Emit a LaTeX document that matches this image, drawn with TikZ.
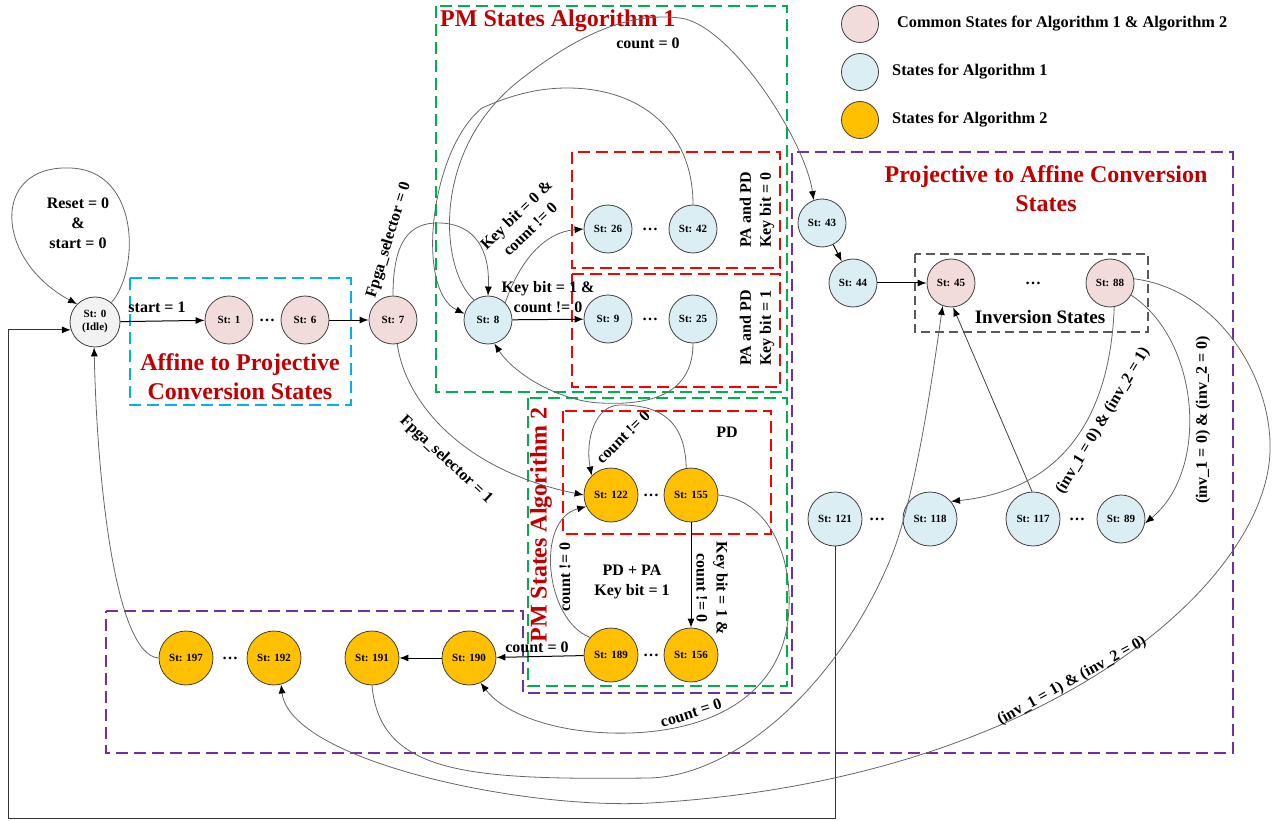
\documentclass[tikz,border=0pt]{standalone}
\usepackage{fontspec}
\setmainfont{Liberation Serif}
\usetikzlibrary{arrows.meta}
\definecolor{pinkc}{HTML}{F2DCDB}
\definecolor{bluec}{HTML}{DAEEF3}
\definecolor{orc}{HTML}{FFC000}
\definecolor{idlec}{HTML}{F2F2F2}
\definecolor{redt}{HTML}{C00000}
\definecolor{greenb}{HTML}{00B050}
\definecolor{redb}{HTML}{FF0000}
\definecolor{purpb}{HTML}{7030A0}
\definecolor{cyanb}{HTML}{00B0F0}
\definecolor{grayb}{HTML}{595959}
\begin{document}
\begin{tikzpicture}[x=1pt,y=-1pt,
  st/.style={circle, draw=black!75, line width=0.8pt, minimum size=48pt, inner sep=0pt, font=\fontsize{11}{13}\selectfont\bfseries, align=center},
  pinkst/.style={st, fill=pinkc},
  bluest/.style={st, fill=bluec},
  bigbluest/.style={st, fill=bluec, minimum size=54pt},
  orst/.style={st, fill=orc, minimum size=54pt},
  idlest/.style={st, fill=idlec, minimum size=50pt},
  legc/.style={circle, draw=black!75, line width=0.8pt, minimum size=37pt, inner sep=0pt},
  legt/.style={anchor=west, inner sep=0pt, font=\fontsize{16.3}{19}\selectfont\bfseries},
  lbl/.style={font=\fontsize{16}{20}\selectfont\bfseries, align=center, inner sep=0pt},
  dots/.style={font=\fontsize{16}{20}\selectfont\bfseries, inner sep=0pt},
  ttl/.style={font=\fontsize{24}{29}\selectfont\bfseries, text=redt, align=center, inner sep=0pt},
  boxd/.style={line width=1.8pt, dash pattern=on 12pt off 6pt},
  straw/.style={draw=black, line width=1pt, -{Latex[length=9pt,width=7pt,color=black]}},
  cur/.style={draw=black!60, line width=0.8pt, -{Latex[length=9pt,width=7pt,color=black]}}
]
\useasboundingbox (0,0) rectangle (1275,821);
% boxes
\draw[boxd, cyanb] (130,278) rectangle (351,405);
\draw[boxd, greenb] (436,6) rectangle (787,392);
\draw[boxd, greenb] (528,398) rectangle (787,686);
\draw[boxd, redb] (572,152) rectangle (780,268);
\draw[boxd, redb] (572,274) rectangle (780,387);
\draw[boxd, redb] (563,411) rectangle (771,534);
\draw[boxd, purpb] (106,611) -- (523,611) -- (523,693) -- (792,693) -- (792,152) -- (1233,152) -- (1233,753) -- (106,753) -- cycle;
\draw[grayb, line width=1.3pt, dash pattern=on 9pt off 5pt] (915,254) rectangle (1148,332);

% titles
\node[ttl, anchor=west] (t1) at (440,21) {PM States Algorithm 1};
\node[ttl, rotate=90] (t2) at (541,525) {PM States Algorithm 2};
\node[ttl] (t3) at (240,377) {Affine to Projective\\Conversion States};
\node[ttl] (t4) at (1046,189) {Projective to Affine Conversion\\States};
\node[font=\fontsize{19}{22}\selectfont\bfseries, inner sep=0pt] (t5) at (1040,317) {Inversion States};

% legend
\node[legc, fill=pinkc] (lg1) at (860,24) {};
\node[legc, fill=bluec] (lg2) at (860,72) {};
\node[legc, fill=orc] (lg3) at (860,120) {};
\node[legt] (lt1) at (897,24) {Common States for Algorithm 1 \& Algorithm 2};
\node[legt] (lt2) at (892,72) {States for Algorithm 1};
\node[legt] (lt3) at (892,120) {States for Algorithm 2};

% states
\node[idlest] (s0) at (95,322) {St: 0\\(Idle)};
\node[pinkst] (s1) at (229,320) {St: 1};
\node[pinkst] (s6) at (305,320) {St: 6};
\node[pinkst] (s7) at (393,320) {St: 7};
\node[bluest] (s8) at (488,320) {St: 8};
\node[bluest] (s9) at (608,319) {St: 9};
\node[bluest] (s25) at (693,319) {St: 25};
\node[bluest] (s26) at (608,229) {St: 26};
\node[bluest] (s42) at (693,229) {St: 42};
\node[bluest] (s43) at (822,223) {St: 43};
\node[bluest] (s44) at (853,283) {St: 44};
\node[pinkst] (s45) at (951,283) {St: 45};
\node[pinkst] (s88) at (1110,283) {St: 88};
\node[bigbluest] (s121) at (835,519) {St: 121};
\node[bigbluest] (s118) at (930,519) {St: 118};
\node[bigbluest] (s117) at (1033,519) {St: 117};
\node[bluest] (s89) at (1121,519) {St: 89};
\node[orst] (s122) at (611,495) {St: 122};
\node[orst] (s155) at (691,495) {St: 155};
\node[orst] (s189) at (611,655) {St: 189};
\node[orst] (s156) at (691,655) {St: 156};
\node[orst] (s190) at (469,658) {St: 190};
\node[orst] (s191) at (372,658) {St: 191};
\node[orst] (s192) at (274,658) {St: 192};
\node[orst] (s197) at (186,658) {St: 197};

% dots
\node[dots] (d1) at (267,320) {\ldots};
\node[dots] (d2) at (650,229) {\ldots};
\node[dots] (d3) at (650,319) {\ldots};
\node[dots] (d4) at (651,495) {\ldots};
\node[dots] (d5) at (651,655) {\ldots};
\node[dots] (d6) at (230,658) {\ldots};
\node[dots] (d7) at (1033,283) {\ldots};
\node[dots] (d8) at (877,519) {\ldots};
\node[dots] (d9) at (1077,519) {\ldots};

% straight arrows
\draw[straw] (s0) -- (s1);
\draw[straw] (s6) -- (s7);
\draw[straw] (s8) -- (s9);
\draw[straw] (s43) -- (s44);
\draw[straw] (s44) -- (s45);
\draw[straw] (s155) -- (s156);
\draw[straw] (s189) -- (s190);
\draw[straw] (s190) -- (s191);
\draw[straw, draw=black!75, line width=0.8pt] (s117.92) -- (s45.-85);
\draw[straw, draw=black!80, line width=0.8pt] (s121.south) -- (835,818) -- (8,818) |- (s0.198);

% curved transitions
\draw[cur] (s0.50) .. controls (140,270) and (140,170) .. (70,168) .. controls (-10,165) and (-5,260) .. (s0.135);
\draw[cur] (s7.north) .. controls (393,240) and (410,222) .. (440,223) .. controls (475,224) and (490,250) .. (s8.north);
\draw[cur] (s7.-80) .. controls (405,400) and (460,470) .. (s122.west);
\draw[cur] (s8.45) .. controls (520,260) and (545,232) .. (s26.west);
\draw[cur] (s42.north) .. controls (693,130) and (640,88) .. (567,88) .. controls (530,88) and (500,100) .. (482,108) .. controls (430,150) and (415,290) .. (s8.165);
\draw[cur] (s8.125) .. controls (440,270) and (430,150) .. (520,80) .. controls (580,33) and (630,12) .. (680,18) .. controls (730,24) and (805,140) .. (s43.110);
\draw[cur] (s25.south) .. controls (693,400) and (640,405) .. (600,403) .. controls (560,401) and (515,375) .. (s8.-75);
\draw[cur] (s155.100) .. controls (685,420) and (660,405) .. (620,405) .. controls (595,405) and (585,440) .. (s122.135);
\draw[cur] (s189.140) .. controls (545,620) and (535,520) .. (s122.205);
\draw[cur] (s155.east) .. controls (770,500) and (795,560) .. (788,620) .. controls (780,690) and (720,730) .. (630,733) .. controls (560,735) and (505,715) .. (s190.-65);
\draw[cur] (s191.south) .. controls (380,775) and (470,780) .. (650,778) .. controls (740,775) and (840,680) .. (890,560) .. controls (915,500) and (932,380) .. (s45.-110);
\draw[cur] (s88.10) .. controls (1220,290) and (1272,380) .. (1270,450) .. controls (1268,580) and (1050,780) .. (650,803) .. controls (520,810) and (290,760) .. (s192.-75);
\draw[cur] (s88.-80) .. controls (1110,420) and (1060,490) .. (s118.40);
\draw[cur] (s88.-30) .. controls (1200,340) and (1210,470) .. (s89.-10);
\draw[cur] (s197.west) .. controls (115,655) and (97,480) .. (s0.-92);

% labels
\node[lbl] (lreset) at (78,223) {Reset = 0\\\&\\start = 0};
\node[lbl] (lstart) at (157,307) {start = 1};
\node[lbl, rotate=73] (lfs0) at (389,240) {Fpga\_selector = 0};
\node[lbl, rotate=-43] (lfs1) at (446,460) {Fpga\_selector = 1};
\node[lbl] (lk1) at (548,297) {Key bit = 1 \&\\count != 0};
\node[lbl, rotate=44] (lk0) at (523,222) {Key bit = 0 \&\\count != 0};
\node[lbl] (lc0a) at (648,43) {count = 0};
\node[lbl, rotate=90] (lpa0) at (757,210) {PA and PD\\Key bit = 0};
\node[lbl, rotate=90] (lpa1) at (757,328) {PA and PD\\Key bit = 1};
\node[lbl] (lpd) at (727,432) {PD};
\node[lbl, rotate=45] (lc1) at (623,437) {count != 0};
\node[lbl] (lpdpa) at (632,582) {PD + PA\\Key bit = 1};
\node[lbl, rotate=90] (lc2) at (565,577) {count != 0};
\node[lbl, rotate=-90] (lk2) at (712,588) {Key bit = 1 \&\\count != 0};
\node[lbl] (lc3) at (537,647) {count = 0};
\node[lbl, rotate=18] (lc4) at (691,713) {count = 0};
\node[lbl, rotate=59] (linv1) at (1103,421) {(inv\_1 = 0) \& (inv\_2 = 1)};
\node[lbl, rotate=90] (linv2) at (1203,420) {(inv\_1 = 0) \& (inv\_2 = 0)};
\node[lbl, rotate=29] (linv3) at (1072,681) {(inv\_1 = 1) \& (inv\_2 = 0)};
\end{tikzpicture}
\end{document}
